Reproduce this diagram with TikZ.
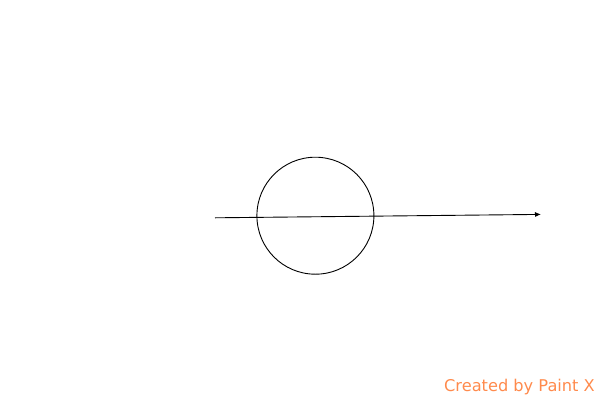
\documentclass[tikz,border=0pt]{standalone}
\usepackage{fontspec}
\newfontfamily\wmfont{DejaVu Sans}
\usetikzlibrary{arrows.meta}
\definecolor{wmorange}{HTML}{FF8A4C}
\tikzset{
  ring/.style={circle, draw=black, line width=0.9pt, minimum size=117pt, inner sep=0pt},
  ray/.style={draw=black, line width=0.9pt, -{Latex[length=6pt,width=5pt]}},
  watermark/.style={text=wmorange, font=\wmfont\fontsize{16.2}{18}\selectfont, anchor=base east, inner sep=0pt}
}
\begin{document}
\begin{tikzpicture}[x=1pt,y=-1pt]
\useasboundingbox (0,0) rectangle (600,400);
\node[ring] (disc) at (315.4,215.7) {};
\coordinate (start) at (215,217.8);
\coordinate (end) at (541,214.4);
\draw[ray] (start) -- (end);
\node[watermark] (mark) at (595,391) {Created by Paint X};
\end{tikzpicture}
\end{document}
